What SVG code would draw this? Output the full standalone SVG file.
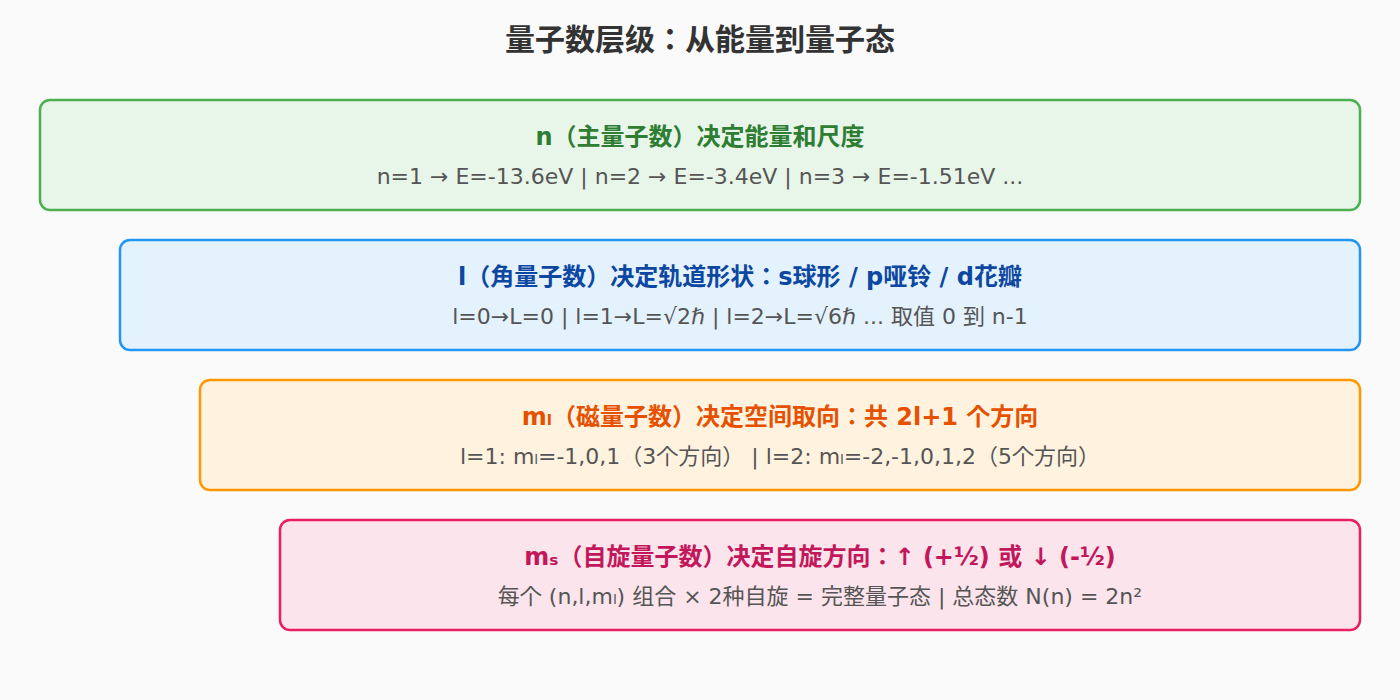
<svg xmlns="http://www.w3.org/2000/svg" width="1400" height="700" viewBox="0 0 1400 700">
<style>
.bg{fill:#FAFAFA}
.box{stroke-width:2.5}
.h{font-family:"DejaVu Sans","Noto Sans CJK JP",sans-serif;font-weight:bold;font-size:24px;text-anchor:middle}
.s{font-family:"DejaVu Sans","Noto Sans CJK JP",sans-serif;font-size:22px;fill:#555;text-anchor:middle}
.title{font-family:"DejaVu Sans","Noto Sans CJK JP",sans-serif;font-weight:bold;font-size:30px;fill:#333;text-anchor:middle}
</style>
<rect class="bg" x="0" y="0" width="1400" height="700"/>
<text class="title" x="700" y="50">量子数层级：从能量到量子态</text>
<g id="node-n">
<rect class="box" x="40" y="100" width="1320" height="110" rx="10" fill="#E8F5E9" stroke="#4CAF50"/>
<text class="h" x="700" y="145" fill="#2E7D32">n（主量子数）决定能量和尺度</text>
<text class="s" x="700" y="184">n=1 → E=-13.6eV | n=2 → E=-3.4eV | n=3 → E=-1.51eV ...</text>
</g>
<g id="node-l">
<rect class="box" x="120" y="240" width="1240" height="110" rx="10" fill="#E3F2FD" stroke="#2196F3"/>
<text class="h" x="740" y="285" fill="#0D47A1">l（角量子数）决定轨道形状：s球形 / p哑铃 / d花瓣</text>
<text class="s" x="740" y="324">l=0→L=0 | l=1→L=√2ℏ | l=2→L=√6ℏ ... 取值 0 到 n-1</text>
</g>
<g id="node-ml">
<rect class="box" x="200" y="380" width="1160" height="110" rx="10" fill="#FFF3E0" stroke="#FF9800"/>
<text class="h" x="780" y="425" fill="#E65100">mₗ（磁量子数）决定空间取向：共 2l+1 个方向</text>
<text class="s" x="780" y="464">l=1: mₗ=-1,0,1（3个方向） | l=2: mₗ=-2,-1,0,1,2（5个方向）</text>
</g>
<g id="node-ms">
<rect class="box" x="280" y="520" width="1080" height="110" rx="10" fill="#FCE4EC" stroke="#E91E63"/>
<text class="h" x="820" y="565" fill="#C2185B">mₛ（自旋量子数）决定自旋方向：↑ (+½) 或 ↓ (-½)</text>
<text class="s" x="820" y="604">每个 (n,l,mₗ) 组合 × 2种自旋 = 完整量子态 | 总态数 N(n) = 2n²</text>
</g>
<g id="connectors"></g>
</svg>
